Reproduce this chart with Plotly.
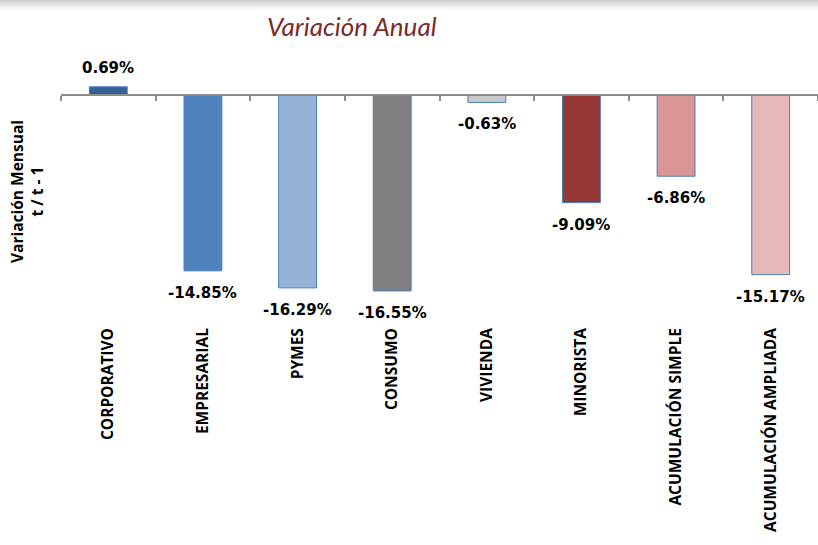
import plotly.graph_objects as go

categories = ["CORPORATIVO", "EMPRESARIAL", "PYMES", "CONSUMO", "VIVIENDA",
              "MINORISTA", "ACUMULACIÓN SIMPLE", "ACUMULACIÓN AMPLIADA"]
values = [0.69, -14.85, -16.29, -16.55, -0.63, -9.09, -6.86, -15.17]
labels = ["0.69%", "-14.85%", "-16.29%", "-16.55%", "-0.63%", "-9.09%", "-6.86%", "-15.17%"]
colors = ["#376092", "#4F81BD", "#95B3D7", "#7F7F7F", "#C9C9C9",
          "#953735", "#D99694", "#E6B9B8"]

W, H = 818, 545
ML, MR, MT, MB = 61, 0, 60, 225
PLOT_H = H - MT - MB
ZERO_PX = 95
PPU = 11.84
ymax = (ZERO_PX - MT) / PPU
ymin = -(MT + PLOT_H - ZERO_PX) / PPU
zero_pos = (MT + PLOT_H - ZERO_PX) / PLOT_H

def py(p):
    return (MT + PLOT_H - p) / PLOT_H

def px(p):
    return (p - ML) / (W - ML - MR)

x_idx = list(range(len(categories)))

fig = go.Figure()
fig.add_trace(go.Bar(
    x=x_idx, y=values, width=0.4,
    marker=dict(color=colors, line=dict(color="#4A7EBB", width=1)),
    hoverinfo="skip", showlegend=False,
))
fig.add_trace(go.Scatter(x=[-0.5, 7.5], y=[0, 0], xaxis="x2", mode="lines",
                         line=dict(width=0), hoverinfo="skip", showlegend=False))

annotations = []
for i, (v, t) in enumerate(zip(values, labels)):
    annotations.append(dict(
        x=i, y=v, xref="x", yref="y", text=t, showarrow=False,
        yshift=19 if v >= 0 else -22,
        font=dict(family="DejaVu Sans", size=15, color="#000000", weight="bold"),
    ))

annotations.append(dict(
    x=px(352), y=py(26), xref="paper", yref="paper", text="<i>Variación Anual</i>",
    showarrow=False, xanchor="center", yanchor="middle",
    font=dict(family="Lato", size=26, color="#7B2B2B"),
))
annotations.append(dict(
    x=px(27), y=py(192), xref="paper", yref="paper",
    text="Variación Mensual<br>t / t - 1", textangle=-90,
    showarrow=False, xanchor="center", yanchor="middle",
    font=dict(family="Open Sans", size=15.5, color="#000000", weight="bold"),
))
annotations.append(dict(
    x=px(55), y=py(549), xref="paper", yref="paper", text="BCE",
    showarrow=False, xanchor="left", yanchor="middle",
    font=dict(family="Open Sans", size=15, color="#000000", weight="bold"),
))

shapes = []
for k, c in enumerate(["#d0d0d0", "#dcdcdc", "#e7e7e7", "#f0f0f0", "#f8f8f8"]):
    shapes.append(dict(type="rect", xref="paper", yref="paper",
                       x0=px(0), x1=px(W), y0=py(2 * k + 2), y1=py(2 * k),
                       fillcolor=c, line=dict(width=0), layer="below"))

fig.update_layout(
    template="none",
    width=W, height=H,
    margin=dict(l=ML, r=MR, t=MT, b=MB, pad=0, autoexpand=False),
    paper_bgcolor="white", plot_bgcolor="white",
    bargap=0.6,
    xaxis=dict(
        range=[-0.5, 7.5], tickmode="array", tickvals=x_idx, ticktext=categories,
        tickangle=-90, showline=False, showgrid=False, zeroline=False, ticks="",
        automargin=False, ticklabelstandoff=4,
        tickfont=dict(family="Open Sans", size=15.5, color="#000000", weight="bold"),
    ),
    xaxis2=dict(
        overlaying="x", matches="x", anchor="free", position=zero_pos, side="bottom",
        range=[-0.5, 7.5], tickmode="array", tickvals=[i - 0.5 for i in range(9)],
        showticklabels=False, ticks="outside", ticklen=5, tickcolor="#8C8C8C",
        tickwidth=1.5, showline=True, linecolor="#8C8C8C", linewidth=2,
        showgrid=False, zeroline=False, automargin=False,
    ),
    yaxis=dict(range=[ymin, ymax], visible=False, showgrid=False, zeroline=False,
               automargin=False),
    annotations=annotations,
    shapes=shapes,
)

fig.write_html("out.html", config={"displayModeBar": False},
               post_script="document.body.style.margin='0';")
